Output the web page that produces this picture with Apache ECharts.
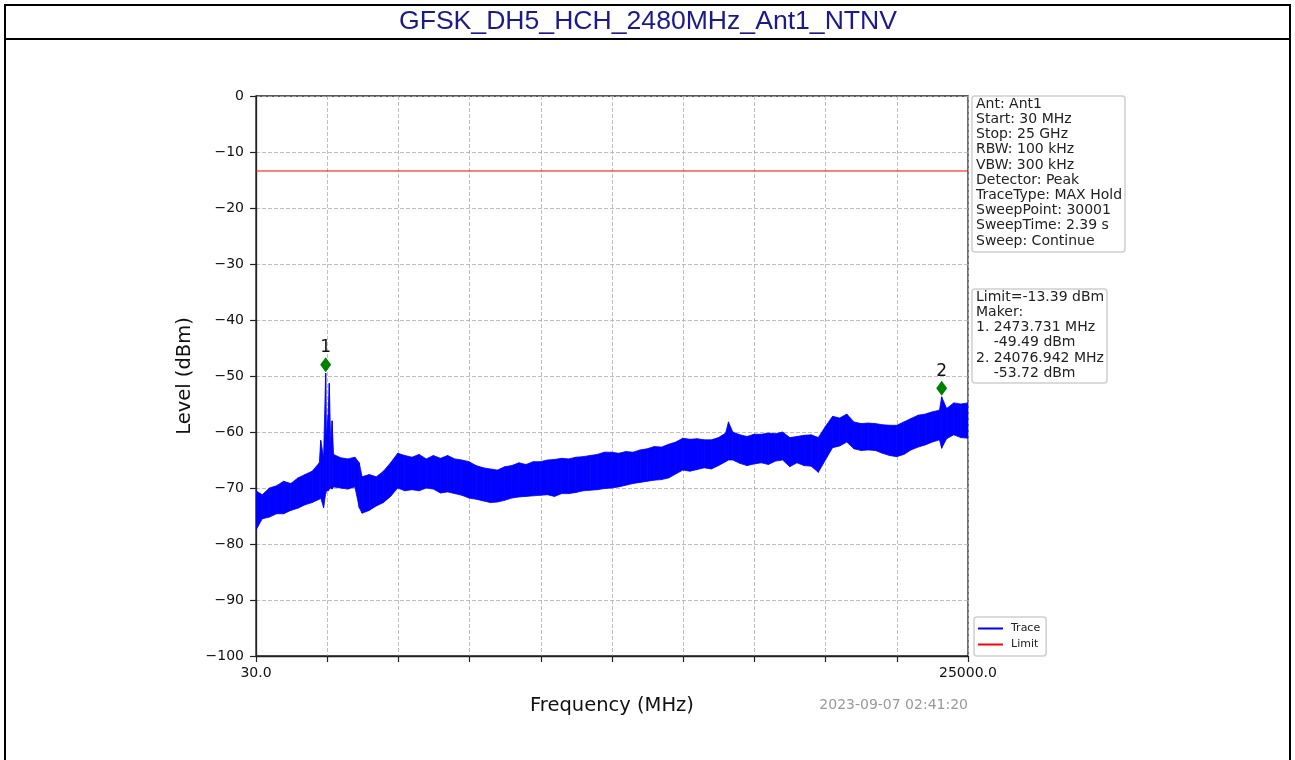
<!DOCTYPE html>
<html><head><meta charset="utf-8">
<script src="https://cdn.jsdelivr.net/npm/echarts@6/dist/echarts.min.js"></script>
<style>html,body{margin:0;padding:0;background:#fff;}#c{width:1295px;height:760px;}</style>
</head><body><div id="c"></div>
<script>
const titleText = 'GFSK_DH5_HCH_2480MHz_Ant1_NTNV';
const freqMHz = [30,250,500,750,1000,1250,1500,1750,2000,2250,2300,2400,2473.731,2500,2560,2600,2650,2700,2750,
  3000,3250,3500,3650,3750,4000,4250,4500,4750,5000,5250,5500,5750,6000,6250,6500,6750,7000,7250,7500,7750,
  8000,8250,8500,8750,9000,9250,9500,9750,10000,10250,10500,10750,11000,11250,11500,11750,12000,12250,12500,12750,
  13000,13250,13500,13750,14000,14250,14500,14750,15000,15250,15500,15750,16000,16250,16500,16600,16750,
  17000,17250,17500,17750,18000,18250,18500,18750,19000,19250,19500,19750,20000,20250,20500,20750,
  21000,21250,21500,21750,22000,22250,22500,22750,23000,23250,23500,23750,24000,24076.942,24250,24500,24750,25000];
const traceTop = [-70.5,-71.2,-70.0,-69.6,-68.8,-69.2,-68.2,-67.6,-67.0,-65.5,-61.5,-64.5,-49.49,-61.0,-57.0,-51.3,-62.0,-58.0,-64.0,
  -64.6,-64.8,-64.5,-65.5,-68.0,-67.6,-68.0,-67.0,-65.5,-63.8,-64.2,-64.5,-64.0,-64.8,-64.2,-64.7,-64.2,-64.8,-65.0,-65.3,-66.0,
  -66.4,-66.6,-66.8,-66.2,-66.0,-65.5,-65.8,-65.3,-65.3,-65.0,-64.9,-64.7,-64.8,-64.5,-64.4,-64.2,-64.0,-63.6,-63.6,-63.8,
  -63.5,-63.6,-63.2,-63.0,-62.6,-62.7,-62.2,-61.8,-61.1,-61.3,-61.2,-61.4,-61.4,-61.0,-60.2,-58.2,-60.0,
  -60.5,-60.8,-60.4,-60.4,-60.2,-60.3,-60.0,-61.0,-60.8,-60.6,-60.5,-61.0,-59.0,-57.2,-57.5,-56.8,
  -58.2,-58.5,-58.4,-58.5,-58.7,-58.8,-58.8,-58.2,-57.6,-57.0,-56.8,-56.4,-56.1,-53.72,-55.8,-54.8,-55.0,-54.8];
const traceBottom = [-77.5,-75.5,-75.2,-74.6,-74.6,-74.0,-73.6,-73.0,-72.6,-72.0,-71.8,-73.5,-71.0,-70.5,-70.5,-70.2,-70.0,-70.2,-69.8,
  -70.0,-70.2,-69.8,-73.5,-74.5,-74.0,-73.2,-72.6,-71.5,-70.0,-70.5,-70.3,-70.5,-70.0,-70.2,-70.9,-70.7,-71.0,-71.3,-71.8,-72.0,
  -72.3,-72.6,-72.5,-72.2,-71.8,-71.6,-71.5,-71.4,-71.3,-71.2,-71.5,-71.0,-71.0,-70.8,-70.5,-70.4,-70.3,-70.1,-70.0,-69.8,
  -69.5,-69.2,-69.0,-68.8,-68.6,-68.5,-68.2,-67.5,-66.8,-67.0,-66.7,-66.4,-66.6,-66.0,-65.3,-65.0,-65.0,
  -65.6,-66.0,-65.7,-65.5,-65.8,-65.2,-65.0,-66.2,-65.5,-66.0,-66.1,-67.2,-65.0,-62.8,-62.5,-61.8,
  -63.0,-63.3,-63.2,-63.3,-63.8,-64.2,-64.4,-64.0,-63.2,-62.7,-62.3,-61.8,-61.4,-62.9,-61.2,-60.5,-61.0,-61.1];
const freqStart = 30, freqStop = 25000;
const limitLevel = -13.39;
const markerFreq = [2473.731, 24076.942];
const markerLevel = [-49.49, -53.72];
const xTickLabels = ['30.0', '25000.0'];
const infoLines = ['Ant: Ant1','Start: 30 MHz','Stop: 25 GHz','RBW: 100 kHz','VBW: 300 kHz','Detector: Peak',
  'TraceType: MAX Hold','SweepPoint: 30001','SweepTime: 2.39 s','Sweep: Continue'];
const timestamp = '2023-09-07 02:41:20';

const markerLines = ['Limit=' + limitLevel.toFixed(2) + ' dBm', 'Maker:'];
markerFreq.forEach((f, i) => {
  markerLines.push((i + 1) + '. ' + f.toFixed(3) + ' MHz');
  markerLines.push('    ' + markerLevel[i].toFixed(2) + ' dBm');
});

const traceData = freqMHz.map((f, i) => [f, traceTop[i], traceBottom[i]]);

const FONT = "'DejaVu Sans', sans-serif";
const BLUE = '#0000ff';
const chart = echarts.init(document.getElementById('c'));
chart.setOption({
  animation: false,
  backgroundColor: '#fff',
  grid: { left: 256, top: 96, width: 712, height: 560, show: true, borderColor: '#222', borderWidth: 1.3, backgroundColor: 'transparent' },
  xAxis: [
    { type: 'value', min: freqStart, max: freqStop, show: false },
    { type: 'value', min: 0, max: 10, interval: 1, position: 'bottom',
      name: 'Frequency (MHz)', nameLocation: 'middle', nameGap: 40,
      nameTextStyle: { fontFamily: FONT, fontSize: 19.5, color: '#111' },
      axisLine: { show: true, lineStyle: { color: '#222', width: 1.3 } },
      axisTick: { show: true, length: 6, lineStyle: { color: '#222', width: 1.2 } },
      axisLabel: { margin: 10, fontFamily: FONT, fontSize: 14, color: '#111', showMinLabel: true, showMaxLabel: true,
        formatter: v => v === 0 ? xTickLabels[0] : (v === 10 ? xTickLabels[1] : '') },
      splitLine: { show: true, lineStyle: { color: '#b0b0b0', type: [4, 2], width: 0.8 } } }
  ],
  yAxis: {
    type: 'value', min: -100, max: 0, interval: 10,
    name: 'Level (dBm)', nameLocation: 'middle', nameGap: 58,
    nameTextStyle: { fontFamily: FONT, fontSize: 19.5, color: '#111' },
    axisLine: { show: true, lineStyle: { color: '#222', width: 1.3 } },
    axisTick: { show: true, length: 6, lineStyle: { color: '#222', width: 1.2 } },
    axisLabel: { margin: 12, fontFamily: FONT, fontSize: 14, color: '#111',
      formatter: v => v < 0 ? '\u2212' + Math.abs(v) : String(v) },
    splitLine: { show: true, lineStyle: { color: '#b0b0b0', type: [4, 2], width: 0.8 } }
  },
  legend: {
    data: ['Trace', 'Limit'], orient: 'vertical', left: 974, top: 617,
    icon: 'rect', itemWidth: 25, itemHeight: 2, itemGap: 5,
    padding: [6, 6, 6, 4], backgroundColor: '#fff', borderColor: '#cfcfcf', borderWidth: 1.5, borderRadius: 3,
    textStyle: { fontFamily: FONT, fontSize: 11, color: '#222', padding: [0, 0, 0, 3] }
  },
  series: [
    { name: 'Trace', type: 'custom', xAxisIndex: 0, data: traceData, clip: true,
      encode: { x: 0, y: [1, 2] }, itemStyle: { color: BLUE },
      renderItem: (params, api) => {
        const i = params.dataIndex;
        if (i >= freqMHz.length - 1) return null;
        const a = api.coord([freqMHz[i], traceTop[i]]);
        const b = api.coord([freqMHz[i + 1], traceTop[i + 1]]);
        const c = api.coord([freqMHz[i + 1], traceBottom[i + 1]]);
        const d = api.coord([freqMHz[i], traceBottom[i]]);
        return { type: 'polygon', shape: { points: [a, b, c, d] },
          style: { fill: BLUE, stroke: BLUE, lineWidth: 0.8 } };
      } },
    { name: 'Limit', type: 'line', xAxisIndex: 0, data: [[freqStart, limitLevel], [freqStop, limitLevel]],
      symbol: 'none', lineStyle: { color: '#ff0000', width: 1 }, itemStyle: { color: '#ff0000' } },
    { name: 'Markers', type: 'scatter', xAxisIndex: 0, z: 5,
      data: markerFreq.map((f, i) => [f, markerLevel[i]]),
      symbol: 'diamond', symbolSize: [11, 15], symbolOffset: [0, -8.5], itemStyle: { color: '#008000', opacity: 1 },
      label: { show: true, position: 'top', distance: 1, fontFamily: FONT, fontSize: 17, color: '#111',
        formatter: p => String(p.dataIndex + 1) } }
  ],
  graphic: [
    { type: 'rect', shape: { x: 5, y: 5, width: 1285, height: 800 }, style: { fill: 'none', stroke: '#000', lineWidth: 2 }, silent: true },
    { type: 'line', shape: { x1: 5, y1: 39, x2: 1290, y2: 39 }, style: { stroke: '#000', lineWidth: 2 }, silent: true },
    { type: 'text', x: 648, y: 22, style: { text: titleText, font: "26.6px 'Liberation Sans', Arial, sans-serif", fill: '#1a1a8a', align: 'center', verticalAlign: 'middle' } },
    { type: 'rect', shape: { x: 972, y: 96, width: 153, height: 156, r: 3 }, style: { fill: '#fff', stroke: '#cfcfcf', lineWidth: 1.5 } },
    { type: 'text', x: 976, y: 96.5, style: { text: infoLines.join('\n'), font: "14px " + FONT, lineHeight: 15.2, fill: '#222', align: 'left', verticalAlign: 'top' } },
    { type: 'rect', shape: { x: 972, y: 289, width: 135, height: 94, r: 3 }, style: { fill: '#fff', stroke: '#cfcfcf', lineWidth: 1.5 } },
    { type: 'text', x: 976, y: 289.5, style: { text: markerLines.join('\n'), font: "14px " + FONT, lineHeight: 15.2, fill: '#222', align: 'left', verticalAlign: 'top' } },
    { type: 'text', x: 968, y: 705, style: { text: timestamp, font: "14px " + FONT, fill: '#999', align: 'right', verticalAlign: 'middle' } }
  ]
});
</script></body></html>
